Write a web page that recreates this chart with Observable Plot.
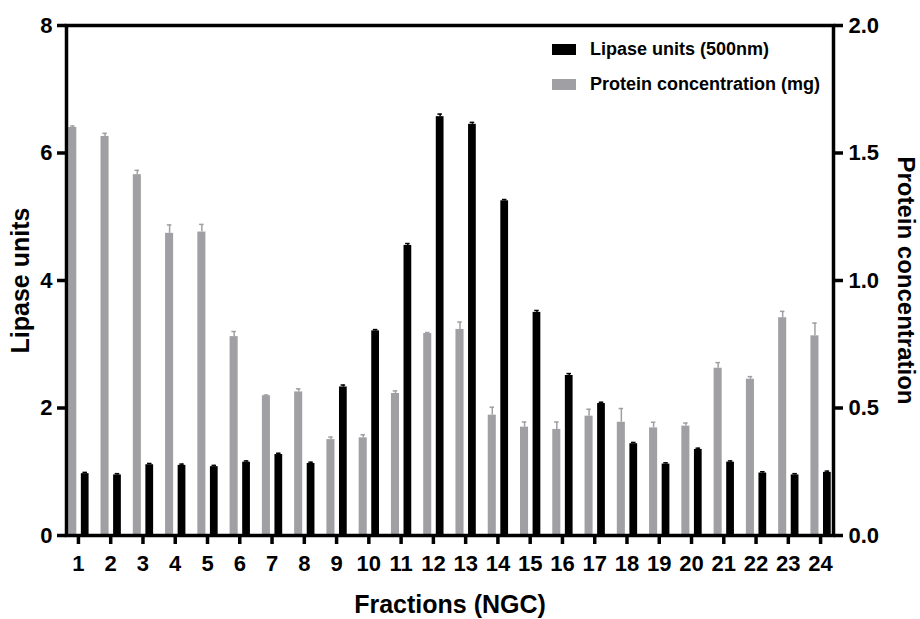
<!DOCTYPE html>
<html><head><meta charset="utf-8">
<script src="https://cdn.jsdelivr.net/npm/d3@7"></script>
<script src="https://cdn.jsdelivr.net/npm/@observablehq/plot@0.6"></script>
<style>
body{margin:0;background:#fff;}
#wrap{position:relative;width:920px;height:619px;font-family:"Liberation Sans",Arial,Helvetica,sans-serif;font-weight:bold;}
.leg{position:absolute;left:552px;display:flex;align-items:center;font-size:18px;color:#000;line-height:1;}
.sw{width:24px;height:11px;margin-right:14px;}
</style></head><body><div id="wrap"></div>
<script>
const fractions = [1,2,3,4,5,6,7,8,9,10,11,12,13,14,15,16,17,18,19,20,21,22,23,24];
const lipase = [0.97,0.95,1.11,1.10,1.08,1.15,1.27,1.13,2.33,3.21,4.55,6.57,6.45,5.25,3.50,2.51,2.07,1.44,1.12,1.35,1.15,0.98,0.95,0.99];
const lipaseErr = [0.02,0.02,0.02,0.02,0.02,0.02,0.02,0.02,0.03,0.02,0.03,0.04,0.03,0.02,0.03,0.03,0.02,0.02,0.02,0.02,0.02,0.02,0.02,0.02];
const protein = [1.60,1.565,1.415,1.185,1.19,0.78,0.548,0.563,0.376,0.383,0.557,0.792,0.808,0.472,0.425,0.416,0.468,0.444,0.422,0.429,0.656,0.613,0.854,0.783];
const proteinErr = [0.006,0.012,0.017,0.033,0.03,0.02,0.003,0.012,0.01,0.012,0.01,0.004,0.029,0.031,0.02,0.029,0.027,0.054,0.022,0.012,0.022,0.01,0.025,0.05];
const leftTicks = [0,2,4,6,8];
const rightTickLabels = ["0.0","0.5","1.0","1.5","2.0"];
const seriesNames = ["Lipase units (500nm)","Protein concentration (mg)"];
const seriesColors = ["#000000","#a0a0a4"];

const ratio = 4; // left units per right unit (8 / 2.0)
const rows = fractions.map((f,i)=>({f, lip: lipase[i], lipErr: lipaseErr[i], prot: protein[i]*ratio, protErr: proteinErr[i]*ratio}));

const font = '"Liberation Sans",Arial,Helvetica,sans-serif';
const plot = Plot.plot({
  width: 920, height: 619,
  marginLeft: 66, marginRight: 87, marginTop: 25, marginBottom: 84,
  style: {fontFamily: font, fontWeight: "bold", fontSize: "22px", color: "#000", background: "#fff", overflow: "visible"},
  x: {type: "linear", domain: [0.63, 24.4]},
  y: {domain: [0, 8]},
  marks: [
    Plot.rectY(rows, {x1: d=>d.f-0.30, x2: d=>d.f-0.05, y1: 0, y2: "prot", fill: seriesColors[1]}),
    Plot.ruleX(rows, {x: d=>d.f-0.175, y1: "prot", y2: d=>d.prot+d.protErr, stroke: seriesColors[1], strokeWidth: 1.5}),
    Plot.ruleY(rows, {y: d=>d.prot+d.protErr, x1: d=>d.f-0.245, x2: d=>d.f-0.105, stroke: seriesColors[1], strokeWidth: 1.5}),
    Plot.rectY(rows, {x1: d=>d.f+0.09, x2: d=>d.f+0.33, y1: 0, y2: "lip", fill: seriesColors[0]}),
    Plot.ruleX(rows, {x: d=>d.f+0.21, y1: "lip", y2: d=>d.lip+d.lipErr, stroke: seriesColors[0], strokeWidth: 1.5}),
    Plot.ruleY(rows, {y: d=>d.lip+d.lipErr, x1: d=>d.f+0.14, x2: d=>d.f+0.28, stroke: seriesColors[0], strokeWidth: 1.5}),
    Plot.frame({stroke: "#000", strokeWidth: 3.5}),
    Plot.axisY({anchor: "left", ticks: leftTicks, tickSize: 9, tickPadding: 5, strokeWidth: 3.5, fontSize: 22, fontWeight: "bold", label: null}),
    Plot.axisY({anchor: "right", ticks: leftTicks, tickFormat: (d)=>rightTickLabels[leftTicks.indexOf(d)], tickSize: 9, tickPadding: 6, strokeWidth: 3.5, fontSize: 22, fontWeight: "bold", label: null}),
    Plot.axisX({anchor: "bottom", ticks: fractions, tickFormat: d=>String(d), tickSize: 9, tickPadding: 11, strokeWidth: 3.5, fontSize: 22, fontWeight: "bold", label: null}),
    Plot.text(["Lipase units"], {frameAnchor: "left", rotate: -90, dx: -46, textAnchor: "middle", lineAnchor: "middle", fontSize: 25, fontWeight: "bold"}),
    Plot.text(["Protein concentration"], {frameAnchor: "right", rotate: 90, dx: 72, textAnchor: "middle", lineAnchor: "middle", fontSize: 24, fontWeight: "bold"}),
    Plot.text(["Fractions (NGC)"], {frameAnchor: "bottom", dy: 69, textAnchor: "middle", lineAnchor: "middle", fontSize: 25, fontWeight: "bold"})
  ]
});
const wrap = document.getElementById("wrap");
wrap.appendChild(plot);
const tops = [40, 75];
seriesNames.forEach((name,i)=>{
  const d = document.createElement("div");
  d.className = "leg";
  d.style.top = tops[i] + "px";
  d.innerHTML = `<span class="sw" style="background:${seriesColors[i]}"></span><span>${name}</span>`;
  wrap.appendChild(d);
});
</script>
</body></html>
